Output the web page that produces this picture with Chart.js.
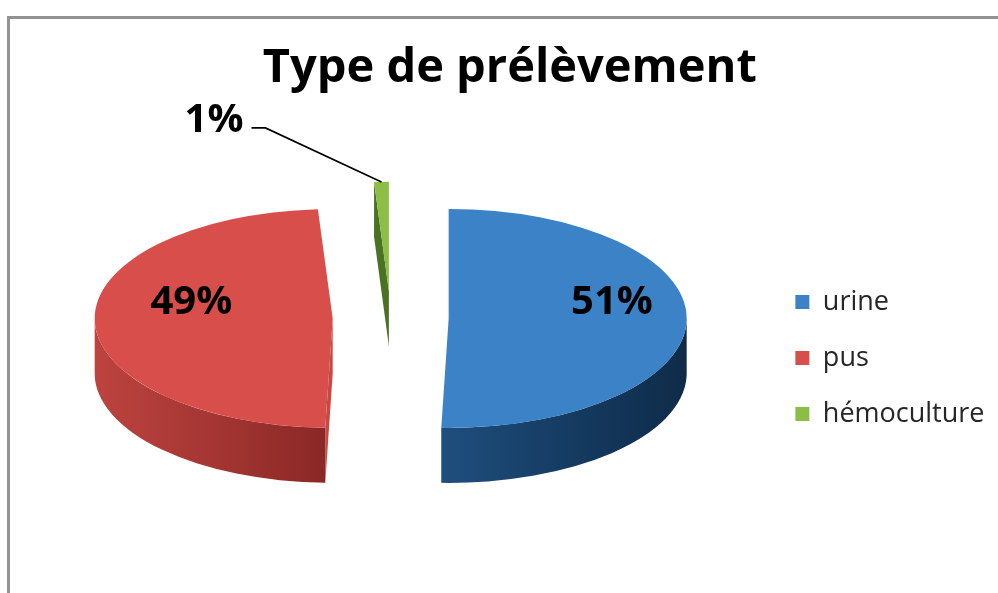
<!DOCTYPE html>
<html lang="fr">
<head>
<meta charset="utf-8">
<title>Type de prélèvement</title>
<script src="https://cdn.jsdelivr.net/npm/chart.js@4.4.1/dist/chart.umd.min.js"></script>
<style>
  html, body { margin: 0; padding: 0; background: #fff; overflow: hidden; }
  #frame { position: absolute; left: 7px; top: 16px; width: 1200px; height: 800px; border: 3px solid #939393; }
  #wrap { position: absolute; left: 0; top: 0; width: 998px; height: 593px; }
</style>
</head>
<body>
<div id="frame"></div>
<div id="wrap"><canvas id="sample-chart"></canvas></div>
<script>
// Sample types and their share (%)
const categories = ['urine', 'pus', 'hémoculture'];
const percentages = [51, 49, 1];
const sliceColors = ['#3b82c6', '#d84e4a', '#8cbe46'];

// darker tones for the rim of each slice: left, middle, right
const rimColors = [
  ['#1f4e7e', '#153c63', '#0f2b48'],
  ['#bd433f', '#a53633', '#8a2826'],
  ['#5d8a2c', '#4e7724', '#40661d']
];
const cutColors = ['#1a4470', '#c84844', '#4a7222'];

const TILT = 0.46;      // vertical squash of the disc
const DEPTH = 55;       // thickness of the pie
const EXPLODE = 58;     // how far each slice is pulled out
const SHIFT_X = -5;
const SHIFT_Y = -40;
const LABEL_RADIUS = 0.64;
const LABEL_SHIFT_X = 11;
const LABEL_LIFT = -17;

// centre of an exploded slice, on screen
function sliceGeom(arc) {
  const mid = (arc.startAngle + arc.endAngle) / 2;
  return {
    cx: arc.x + SHIFT_X + Math.cos(mid) * EXPLODE,
    cy: arc.y + SHIFT_Y + Math.sin(mid) * EXPLODE * TILT,
    r: arc.outerRadius,
    mid: mid
  };
}

function project(g, angle, radius, drop) {
  return {
    x: g.cx + Math.cos(angle) * radius,
    y: g.cy + Math.sin(angle) * radius * TILT + (drop || 0)
  };
}

function drawRim(ctx, g, a1, a2, colors) {
  // only the front half of the rim can be seen
  const s = Math.max(a1, 0);
  const e = Math.min(a2, Math.PI);
  if (e <= s) return;
  const p1 = project(g, s, g.r);
  const p2 = project(g, e, g.r);
  const grad = ctx.createLinearGradient(Math.min(p1.x, p2.x), 0, Math.max(p1.x, p2.x), 0);
  grad.addColorStop(0, colors[0]);
  grad.addColorStop(0.5, colors[1]);
  grad.addColorStop(1, colors[2]);
  ctx.fillStyle = grad;
  ctx.beginPath();
  ctx.ellipse(g.cx, g.cy, g.r, g.r * TILT, 0, s, e);
  ctx.ellipse(g.cx, g.cy + DEPTH, g.r, g.r * TILT, 0, e, s, true);
  ctx.closePath();
  ctx.fill();
}

function drawCut(ctx, g, angle, normal, color) {
  if (Math.sin(normal) <= 0.01) return;
  const p = project(g, angle, g.r);
  ctx.fillStyle = color;
  ctx.beginPath();
  ctx.moveTo(g.cx, g.cy);
  ctx.lineTo(p.x, p.y);
  ctx.lineTo(p.x, p.y + DEPTH);
  ctx.lineTo(g.cx, g.cy + DEPTH);
  ctx.closePath();
  ctx.fill();
}

const pie3d = {
  id: 'pie3d',
  beforeDatasetDraw(chart, args) {
    const ctx = chart.ctx;
    const arcs = args.meta.data;
    ctx.save();
    // side walls first
    arcs.forEach((arc, i) => {
      const g = sliceGeom(arc);
      drawCut(ctx, g, arc.startAngle, arc.startAngle - Math.PI / 2, cutColors[i]);
      drawCut(ctx, g, arc.endAngle, arc.endAngle + Math.PI / 2, cutColors[i]);
      drawRim(ctx, g, arc.startAngle, arc.endAngle, rimColors[i]);
    });
    // then the top faces, squashed into ellipses
    arcs.forEach(arc => {
      const g = sliceGeom(arc);
      ctx.save();
      ctx.translate(g.cx, g.cy);
      ctx.scale(1, TILT);
      ctx.translate(-arc.x, -arc.y);
      arc.draw(ctx);
      ctx.restore();
    });
    ctx.restore();
    return false;
  },
  afterDatasetsDraw(chart) {
    const ctx = chart.ctx;
    const meta = chart.getDatasetMeta(0);
    ctx.save();
    ctx.font = 'bold 40px "Open Sans"';
    ctx.fillStyle = '#000';
    ctx.textBaseline = 'middle';
    meta.data.forEach((arc, i) => {
      const g = sliceGeom(arc);
      const text = percentages[i] + '%';
      if (percentages[i] >= 5) {
        const p = project(g, g.mid, g.r * LABEL_RADIUS);
        ctx.textAlign = 'center';
        ctx.fillText(text, p.x + LABEL_SHIFT_X, p.y + LABEL_LIFT);
      } else {
        // thin slice: label sits outside with a leader line
        const tip = project(g, g.mid, g.r);
        const elbow = { x: tip.x - 116, y: tip.y - 54 };
        ctx.strokeStyle = '#000';
        ctx.lineWidth = 1.6;
        ctx.beginPath();
        ctx.moveTo(tip.x, tip.y);
        ctx.lineTo(elbow.x, elbow.y);
        ctx.lineTo(elbow.x - 14, elbow.y);
        ctx.stroke();
        ctx.textAlign = 'right';
        ctx.fillText(text, elbow.x - 22, elbow.y - 7);
      }
    });
    ctx.restore();
  }
};

const ctx = document.getElementById('sample-chart').getContext('2d');
new Chart(ctx, {
  type: 'pie',
  data: {
    labels: categories,
    datasets: [{
      data: percentages,
      backgroundColor: sliceColors,
      borderWidth: 0,
      radius: 238,
      clip: false
    }]
  },
  plugins: [pie3d],
  options: {
    responsive: true,
    maintainAspectRatio: false,
    animation: false,
    events: [],
    layout: {
      padding: { left: 25, right: 3.5, top: 0, bottom: 0 }
    },
    plugins: {
      title: {
        display: true,
        text: 'Type de prélèvement',
        color: '#000',
        font: { family: 'Open Sans', size: 47, weight: 'bold' },
        padding: { top: 40, bottom: 26.6 }
      },
      legend: {
        position: 'right',
        fullSize: false,
        labels: {
          boxWidth: 14,
          boxHeight: 14,
          padding: 29,
          color: '#262626',
          font: { family: 'Open Sans', size: 27 }
        }
      },
      tooltip: { enabled: false }
    }
  }
});
</script>
</body>
</html>
